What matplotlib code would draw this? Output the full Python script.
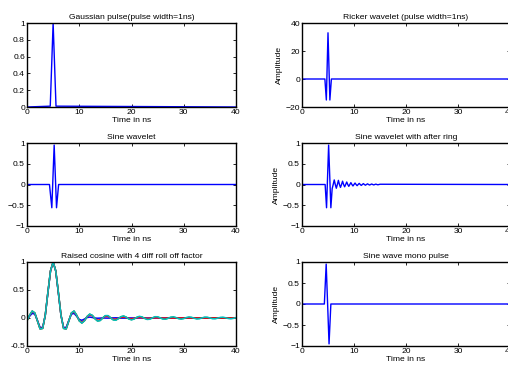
import numpy as np
import matplotlib
matplotlib.use("Agg")
import matplotlib.pyplot as plt

plt.rcParams['font.family'] = ['Liberation Sans', 'DejaVu Sans']
FS = 6.1
plt.rcParams['font.size'] = FS

# ---------------- data ----------------
t_gauss = [0, 4.45, 5.0, 5.55, 40]
v_gauss = [0, 0.01, 1.0, 0.01, 0]

t_ricker = [0, 4.4, 4.68, 5.0, 5.36, 5.65, 40]
v_ricker = [0, 0, -15, 33, -15, 0, 0]

t_sine = [0, 4.3, 4.75, 5.2, 5.65, 6.05, 40]
v_sine = [0, 0, -0.56, 0.95, -0.56, 0, 0]

t_ring = [0, 4.45, 4.72, 5.12, 5.55, 5.8,
          6.0, 6.2, 6.4, 6.6, 6.8, 7.0, 7.2, 7.4, 7.6, 7.8,
          8.0, 8.2, 8.4, 8.6, 8.8, 9.0, 9.2, 9.4, 9.6, 9.8,
          10.0, 10.2, 10.4, 10.6, 10.8, 11.0, 11.2, 11.4, 11.6, 11.8,
          12.0, 12.2, 12.4, 12.6, 12.8, 13.0, 13.2, 13.4, 13.6, 13.8,
          14.0, 14.2, 14.4, 14.6, 14.8, 15.0, 40]
v_ring = [0, 0, -0.56, 0.95, -0.56, -0.10,
          0.0, 0.11, 0.0, -0.09, 0.0, 0.10, 0.0, -0.07, 0.0, 0.08,
          0.0, -0.055, 0.0, 0.06, 0.0, -0.045, 0.0, 0.045, 0.0, -0.035,
          0.0, 0.035, 0.0, -0.028, 0.0, 0.027, 0.0, -0.022, 0.0, 0.021,
          0.0, -0.017, 0.0, 0.016, 0.0, -0.013, 0.0, 0.012, 0.0, -0.01,
          0.0, 0.009, 0.0, -0.007, 0.0, 0.006, 0]

t_mono = [0, 4.3, 4.65, 5.2, 5.55, 40]
v_mono = [0, 0, 0.95, -0.95, 0, 0]

t_rc = np.arange(0, 40.5, 0.5)
rc_blue = [-0.026, 0.031, 0.084, 0.067, -0.043, -0.168, -0.169, 0.050, 0.449, 0.838, 1.000,
           0.838, 0.449, 0.050, -0.169, -0.168, -0.043, 0.067, 0.084, 0.031, -0.026,
           -0.041, -0.019, 0.008, 0.017, 0.009, -0.001, -0.004, -0.002, 0.000, -0.001,
           -0.002, 0.000, 0.002, 0.003, 0.001, -0.002, -0.002, -0.001, 0.001, 0.001,
           0, 0, 0, 0, 0, 0, 0, 0, 0, 0, 0, 0, 0, 0, 0, 0, 0, 0, 0, 0,
           0, 0, 0, 0, 0, 0, 0, 0, 0, 0, 0, 0, 0, 0, 0, 0, 0, 0, 0, 0]
rc_green = [-0.049, 0.050, 0.123, 0.089, -0.053, -0.194, -0.186, 0.053, 0.460, 0.843, 1.000,
            0.843, 0.460, 0.053, -0.186, -0.194, -0.053, 0.089, 0.123, 0.050, -0.049,
            -0.088, -0.048, 0.026, 0.067, 0.045, -0.011, -0.051, -0.043, 0.002, 0.039,
            0.039, 0.004, -0.030, -0.035, -0.009, 0.021, 0.031, 0.012, -0.015, -0.028,
            -0.014, 0.009, 0.023, 0.015, -0.005, -0.019, -0.016, 0.001, 0.016, 0.015,
            0.001, -0.012, -0.014, -0.004, 0.009, 0.013, 0.005, -0.007, -0.011, -0.006,
            0.004, 0.009, 0.006, -0.002, -0.008, -0.006, 0.001, 0.007, 0.006, 0.000,
            -0.005, -0.005, -0.001, 0.004, 0.005, 0.001, -0.003, -0.004, -0.002, 0.002]
rc_red = [-0.046, 0.047, 0.118, 0.086, -0.051, -0.191, -0.183, 0.053, 0.458, 0.842, 1.000,
          0.842, 0.458, 0.053, -0.183, -0.191, -0.051, 0.086, 0.118, 0.047, -0.046,
          -0.081, -0.044, 0.023, 0.058, 0.039, -0.009, -0.041, -0.033, 0.001, 0.029,
          0.028, 0.003, -0.020, -0.022, -0.006, 0.012, 0.017, 0.007, -0.007, -0.013,
          -0.006, 0.004, 0.009, 0.005, -0.002, -0.006, -0.004, 0.000, 0.003, 0.003,
          0.000, -0.002, -0.001, 0, 0, 0, 0, 0, 0, 0,
          0, 0, 0, 0, 0, 0, 0, 0, 0, 0, 0, 0, 0, 0, 0, 0, 0, 0, 0, 0]
rc_cyan = [-0.050, 0.051, 0.125, 0.090, -0.053, -0.195, -0.186, 0.053, 0.460, 0.843, 1.000,
           0.843, 0.460, 0.053, -0.186, -0.195, -0.053, 0.090, 0.125, 0.051, -0.050,
           -0.091, -0.050, 0.027, 0.070, 0.048, -0.012, -0.055, -0.046, 0.002, 0.043,
           0.043, 0.005, -0.034, -0.040, -0.011, 0.025, 0.037, 0.015, -0.018, -0.034,
           -0.018, 0.012, 0.030, 0.020, -0.007, -0.026, -0.022, 0.002, 0.023, 0.022,
           0.002, -0.019, -0.022, -0.006, 0.015, 0.022, 0.008, -0.012, -0.021, -0.011,
           0.008, 0.019, 0.013, -0.005, -0.018, -0.014, 0.002, 0.016, 0.015, 0.001,
           -0.013, -0.015, -0.003, 0.011, 0.015, 0.005, -0.009, -0.015, -0.007, 0.007]

titles = ["Gaussian pulse(pulse width=1ns)", "Ricker wavelet (pulse width=1ns)",
          "Sine wavelet", "Sine wavelet with after ring",
          "Raised cosine with 4 diff roll off factor", "Sine wave mono pulse"]
x_ticks = [0, 10, 20, 30, 40]

# ---------------- layout ----------------
W, H = 508, 372
fig = plt.figure(figsize=(W / 100, H / 100), dpi=100)

def px_axes(x0, y0, x1, y1):
    return fig.add_axes([x0 / W, 1 - y1 / H, (x1 - x0) / W, (y1 - y0) / H])

rows = [(23, 107), (143, 226), (262, 346)]
cols = [(27, 236), (302, 510)]

axes = []
for r in rows:
    for c in cols:
        axes.append(px_axes(c[0], r[0], c[1], r[1]))

blue = (0, 0, 1)
lw = 1.0

def style(ax, ylim, yticks, ylabels, title, ylabel=None):
    ax.set_xlim(0, 40)
    ax.set_ylim(*ylim)
    ax.set_xticks(x_ticks)
    ax.set_xticklabels([str(v) for v in x_ticks])
    ax.set_yticks(yticks)
    ax.set_yticklabels(ylabels)
    ax.tick_params(direction='in', length=2.5, width=0.6, top=True, right=True,
                   labelsize=FS, pad=1.5)
    for s in ax.spines.values():
        s.set_linewidth(1.0)
    ax.set_title(title, fontsize=FS, pad=3)
    ax.set_xlabel("Time in ns", fontsize=FS, labelpad=0.5)
    if ylabel:
        ax.set_ylabel(ylabel, fontsize=FS, labelpad=2)

ax = axes[0]
ax.plot(t_gauss, v_gauss, color=blue, lw=lw)
style(ax, (0, 1), [0, 0.2, 0.4, 0.6, 0.8, 1], ["0", "0.2", "0.4", "0.6", "0.8", "1"], titles[0])

ax = axes[1]
ax.plot(t_ricker, v_ricker, color=blue, lw=lw)
style(ax, (-20, 40), [-20, 0, 20, 40], ["\u221220", "0", "20", "40"], titles[1], "Amplitude")

ax = axes[2]
ax.plot(t_sine, v_sine, color=blue, lw=lw)
style(ax, (-1, 1), [-1, -0.5, 0, 0.5, 1], ["\u22121", "\u22120.5", "0", "0.5", "1"], titles[2])

ax = axes[3]
ax.plot(t_ring, v_ring, color=blue, lw=lw)
style(ax, (-1, 1), [-1, -0.5, 0, 0.5, 1], ["\u22121", "\u22120.5", "0", "0.5", "1"], titles[3], "Amplitude")

ax = axes[4]
ax.plot(t_rc, rc_blue, color=(0, 0, 1), lw=1.1)
ax.plot(t_rc, rc_green, color=(0, 0.5, 0), lw=1.1)
ax.plot(t_rc, rc_red, color=(1, 0, 0), lw=1.1)
ax.plot(t_rc, rc_cyan, color=(0, 0.75, 0.75), lw=1.1)
style(ax, (-0.5, 1), [-0.5, 0, 0.5, 1], ["-0.5", "0", "0.5", "1"], titles[4])

ax = axes[5]
ax.plot(t_mono, v_mono, color=blue, lw=lw)
style(ax, (-1, 1), [-1, -0.5, 0, 0.5, 1], ["\u22121", "\u22120.5", "0", "0.5", "1"], titles[5], "Amplitude")

fig.savefig("out.png", dpi=100)
